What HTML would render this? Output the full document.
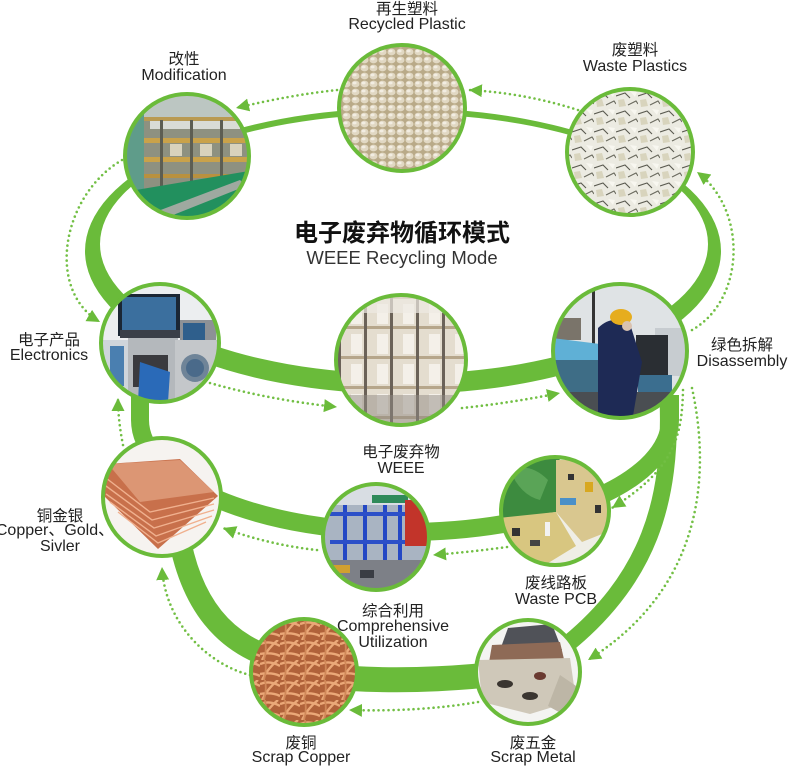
<!DOCTYPE html>
<html><head><meta charset="utf-8"><style>
html,body{margin:0;padding:0;background:#fff;}
svg{display:block}
.cj{font-family:"Liberation Sans","Noto Sans CJK SC",sans-serif;font-size:15.5px;fill:#222;}
.en{font-family:"Liberation Sans","Noto Sans CJK SC",sans-serif;font-size:16px;fill:#222;}
.dot{fill:none;stroke:#72bf44;stroke-width:2.6;stroke-dasharray:0 5;stroke-linecap:round;}
.band{fill:none;stroke:#6abb3a;}
.ring{fill:none;stroke:#6abb3a;stroke-width:4;}
</style></head><body>
<svg width="789" height="767" viewBox="0 0 789 767" xmlns="http://www.w3.org/2000/svg">
<defs>
<marker id="ah" markerUnits="userSpaceOnUse" markerWidth="16" markerHeight="16" refX="13" refY="6.5" orient="auto"><path d="M0,0 L13,6.5 L0,13 z" fill="#6abb3a"/></marker>
<clipPath id="k1"><circle cx="402" cy="108" r="63"/></clipPath>
<clipPath id="k2"><circle cx="187" cy="156" r="62"/></clipPath>
<clipPath id="k3"><circle cx="630" cy="152" r="63"/></clipPath>
<clipPath id="k4"><circle cx="160" cy="343" r="59"/></clipPath>
<clipPath id="k5"><circle cx="401" cy="360" r="65"/></clipPath>
<clipPath id="k6"><circle cx="620" cy="351" r="67"/></clipPath>
<clipPath id="k7"><circle cx="162" cy="497" r="59"/></clipPath>
<clipPath id="k8"><circle cx="376" cy="537" r="53"/></clipPath>
<clipPath id="k9"><circle cx="555" cy="511" r="54"/></clipPath>
<clipPath id="k10"><circle cx="304" cy="672" r="53"/></clipPath>
<clipPath id="k11"><circle cx="528" cy="672" r="52"/></clipPath>
<pattern id="pel" width="9" height="8" patternUnits="userSpaceOnUse"><rect width="9" height="8" fill="#b9aa88"/><ellipse cx="4.5" cy="4" rx="4" ry="3.4" fill="#e1d8c3"/><ellipse cx="3.6" cy="3" rx="2" ry="1.4" fill="#f2ede2"/></pattern>
<pattern id="flk" width="22" height="18" patternUnits="userSpaceOnUse"><rect width="22" height="18" fill="#ecebe2"/><polygon points="2,10 8,9 10,16 3,17" fill="#d8d4bd"/><polygon points="14,1 21,2 19,7" fill="#f8f7f0"/><path d="M0,6 L9,3 L14,8" stroke="#5a5a50" stroke-width="1.1" fill="none"/><path d="M12,15 L20,11 L22,14" stroke="#6a6a5e" stroke-width="1.1" fill="none"/></pattern>
<pattern id="box" width="26" height="30" patternUnits="userSpaceOnUse"><rect width="26" height="30" fill="#e4ddcf"/><rect x="0" y="0" width="3" height="30" fill="#6b6258"/><rect x="3" y="26" width="23" height="3" fill="#b6a68b"/><rect x="13" y="4" width="11" height="20" fill="#f4f0e9"/></pattern>
<pattern id="wire" width="20" height="20" patternUnits="userSpaceOnUse"><rect width="20" height="20" fill="#b0623a"/><path d="M0,4 Q10,0 20,6 M2,20 Q8,8 18,0 M0,14 Q12,12 20,16" stroke="#eaa878" stroke-width="2.4" fill="none"/><path d="M5,0 Q7,10 4,20" stroke="#d08858" stroke-width="1.8" fill="none"/></pattern>
</defs>

<!-- green bands -->
<path fill="#6abb3a" fill-rule="evenodd" d="M85,251 A318,143 0 1 0 721,251 A318,143 0 1 0 85,251 Z M100,244 A304,130 0 1 0 708,244 A304,130 0 1 0 100,244 Z"/>
<path class="band" stroke-width="18" d="M140,395 L140,420 A265,112 0 0 0 670,420 L670,395"/>
<path class="band" stroke-width="17" d="M668,398 C672,500 650,580 560,650"/>
<path class="band" stroke-width="25" d="M540,668 C480,678 400,684 320,676"/>
<path class="band" stroke-width="22" d="M280,660 C225,645 190,605 178,530"/>

<!-- dotted arrows -->
<path class="dot" marker-end="url(#ah)" d="M337,90 Q290,95 236,108"/>
<path class="dot" marker-end="url(#ah)" d="M578,110 Q525,93 469,90"/>
<path class="dot" marker-end="url(#ah)" d="M692,330 C745,300 748,210 697,172"/>
<path class="dot" marker-end="url(#ah)" d="M122,160 C62,195 45,290 100,322"/>
<path class="dot" marker-end="url(#ah)" d="M210,383 Q270,400 337,407"/>
<path class="dot" marker-end="url(#ah)" d="M462,408 Q510,403 560,393"/>
<path class="dot" marker-end="url(#ah)" d="M123,445 Q118,420 118,398"/>
<path class="dot" marker-end="url(#ah)" d="M683,390 C682,440 672,470 612,508"/>
<path class="dot" marker-end="url(#ah)" d="M692,388 C712,480 700,590 588,660"/>
<path class="dot" marker-end="url(#ah)" d="M478,702 Q420,712 349,710"/>
<path class="dot" marker-end="url(#ah)" d="M250,675 C210,665 165,625 162,567"/>
<path class="dot" marker-end="url(#ah)" d="M507,547 Q470,552 433,555"/>
<path class="dot" marker-end="url(#ah)" d="M317,550 Q270,545 223,528"/>

<!-- C1 Recycled plastic -->
<g clip-path="url(#k1)"><rect x="335" y="40" width="135" height="135" fill="url(#pel)"/></g>
<circle class="ring" cx="402" cy="108" r="63"/>

<!-- C2 Modification -->
<g clip-path="url(#k2)">
<rect x="120" y="90" width="135" height="135" fill="#8e9180"/>
<rect x="120" y="90" width="135" height="28" fill="#bcc6c2"/>
<rect x="150" y="120" width="90" height="9" fill="#d9dcd6"/>
<rect x="120" y="117" width="135" height="4" fill="#b99a52"/>
<rect x="120" y="138" width="135" height="5" fill="#c9a24a"/>
<rect x="120" y="157" width="135" height="5" fill="#c9a24a"/>
<rect x="120" y="174" width="135" height="4" fill="#b9913f"/>
<rect x="160" y="120" width="3" height="70" fill="#5d5e52"/><rect x="190" y="120" width="3" height="70" fill="#5d5e52"/><rect x="220" y="120" width="3" height="70" fill="#5d5e52"/>
<rect x="170" y="144" width="12" height="12" fill="#d8d2bc"/><rect x="200" y="144" width="12" height="12" fill="#d8d2bc"/><rect x="230" y="144" width="12" height="12" fill="#d8d2bc"/>
<rect x="124" y="90" width="20" height="135" fill="#5f9c8a"/>
<polygon points="124,192 255,170 255,225 124,225" fill="#22905e"/>
<polygon points="150,214 240,180 246,186 158,221" fill="#9fa9a0"/>
</g>
<circle class="ring" cx="187" cy="156" r="62"/>

<!-- C3 Waste plastics -->
<g clip-path="url(#k3)"><rect x="565" y="87" width="130" height="130" fill="url(#flk)"/></g>
<circle class="ring" cx="630" cy="152" r="63"/>

<!-- C4 Electronics -->
<g clip-path="url(#k4)">
<rect x="98" y="281" width="124" height="124" fill="#eceef0"/>
<rect x="100" y="340" width="28" height="62" fill="#cfd5db"/>
<rect x="110" y="346" width="14" height="40" fill="#4a7fb0"/>
<rect x="118" y="294" width="62" height="42" fill="#1b2634"/>
<rect x="122" y="297" width="54" height="35" fill="#3b6f9e"/>
<rect x="120" y="330" width="60" height="8" fill="#3a3f48"/>
<rect x="180" y="320" width="36" height="24" fill="#8d9196"/>
<rect x="183" y="323" width="22" height="17" fill="#2f5f8c"/>
<rect x="128" y="338" width="50" height="64" fill="#b4b8bc"/>
<rect x="133" y="355" width="35" height="32" fill="#3a3a3e"/>
<rect x="175" y="340" width="42" height="62" fill="#c4c7ca"/>
<circle cx="195" cy="368" r="14" fill="#6f8498"/><circle cx="195" cy="368" r="9" fill="#4a6a8a"/>
<path d="M140,362 L170,372 L168,402 L138,402 Z" fill="#2a6ab8"/>
</g>
<circle class="ring" cx="160" cy="343" r="59"/>

<!-- C5 WEEE -->
<g clip-path="url(#k5)">
<rect x="334" y="293" width="134" height="134" fill="url(#box)"/>
<rect x="334" y="293" width="134" height="20" fill="#eeeae2" opacity="0.7"/>
<rect x="340" y="395" width="120" height="32" fill="#8f8a84" opacity="0.5"/>
</g>
<circle class="ring" cx="401" cy="360" r="65"/>

<!-- C6 Disassembly -->
<g clip-path="url(#k6)">
<rect x="552" y="283" width="136" height="136" fill="#dfe3e5"/>
<rect x="592" y="283" width="3" height="62" fill="#333"/>
<rect x="556" y="318" width="25" height="22" fill="#7a746a"/>
<polygon points="552,338 600,344 600,366 552,360" fill="#5fb0d6"/>
<rect x="552" y="360" width="46" height="40" fill="#3e6d86"/>
<rect x="655" y="328" width="33" height="48" fill="#c7ccd0"/>
<rect x="636" y="335" width="32" height="40" fill="#2a2e33"/>
<rect x="638" y="375" width="34" height="25" fill="#3b6e8f"/>
<rect x="552" y="392" width="136" height="30" fill="#4a4e52"/>
<path d="M598,328 Q612,314 630,324 L642,362 L632,422 L598,422 Z" fill="#1e2a55"/>
<ellipse cx="621" cy="317" rx="11" ry="8" fill="#e6ad1e"/>
<circle cx="627" cy="326" r="5" fill="#d9c2b0"/>
</g>
<circle class="ring" cx="620" cy="351" r="67"/>

<!-- C7 Copper -->
<g clip-path="url(#k7)">
<rect x="100" y="435" width="124" height="124" fill="#f6f3f0"/>
<polygon points="106,464 180,459 218,496 158,549 104,496" fill="#c8704b"/>
<polygon points="108,464 180,460 214,492 140,502" fill="#dc9674"/>
<path d="M106,478 L150,512 L214,498 M106,486 L152,520 L214,504 M106,494 L154,528 L214,510 M110,502 L156,536 L212,516 M118,512 L158,543 L206,522" stroke="#f0b08e" stroke-width="1.4" fill="none"/>
</g>
<circle class="ring" cx="162" cy="497" r="59"/>

<!-- C8 Comprehensive Utilization -->
<g clip-path="url(#k8)">
<rect x="320" y="481" width="112" height="112" fill="#a9b4c2"/>
<rect x="320" y="481" width="112" height="24" fill="#d8dde3"/>
<rect x="372" y="495" width="36" height="8" fill="#2f8a5a"/>
<rect x="343" y="505" width="4" height="85" fill="#2448c4"/><rect x="363" y="505" width="4" height="85" fill="#2448c4"/><rect x="383" y="505" width="4" height="85" fill="#2448c4"/><rect x="398" y="505" width="4" height="85" fill="#2448c4"/>
<rect x="330" y="512" width="80" height="4" fill="#2c50c8"/><rect x="330" y="540" width="80" height="4" fill="#2c50c8"/>
<rect x="405" y="500" width="27" height="46" fill="#c2342a"/>
<rect x="320" y="560" width="112" height="33" fill="#7d8087"/>
<rect x="330" y="565" width="20" height="8" fill="#d0a030"/><rect x="360" y="570" width="14" height="8" fill="#3a3d44"/>
</g>
<circle class="ring" cx="376" cy="537" r="53"/>

<!-- C9 PCB -->
<g clip-path="url(#k9)">
<rect x="498" y="454" width="114" height="114" fill="#efeee6"/>
<polygon points="498,454 560,454 556,512 498,520" fill="#3d8b3f"/>
<path d="M510,470 Q530,462 548,480 L540,500 Q520,495 510,470 Z" fill="#5aa457"/>
<polygon points="556,460 612,460 612,530 582,542 556,512" fill="#d9c78f"/>
<polygon points="498,518 556,512 576,546 540,568 498,568" fill="#d8c680"/>
<rect x="560" y="498" width="16" height="7" fill="#4a90c8"/>
<rect x="585" y="482" width="8" height="10" fill="#d8a820"/>
<rect x="568" y="474" width="6" height="6" fill="#333"/><rect x="595" y="505" width="6" height="8" fill="#333"/>
<rect x="512" y="528" width="8" height="8" fill="#333"/><rect x="530" y="540" width="10" height="6" fill="#444"/><rect x="545" y="522" width="5" height="14" fill="#f2f2f2"/>
</g>
<circle class="ring" cx="555" cy="511" r="54"/>

<!-- C10 Scrap copper -->
<g clip-path="url(#k10)"><rect x="249" y="617" width="110" height="110" fill="url(#wire)"/></g>
<circle class="ring" cx="304" cy="672" r="53"/>

<!-- C11 Scrap metal -->
<g clip-path="url(#k11)">
<rect x="474" y="618" width="108" height="108" fill="#f4f4f2"/>
<polygon points="508,628 552,624 562,650 500,650" fill="#505258"/>
<polygon points="492,645 560,642 566,668 488,668" fill="#8e6a56"/>
<polygon points="478,660 570,658 576,700 530,714 482,702" fill="#cfc8b9"/>
<polygon points="560,675 582,690 566,716 548,706" fill="#bdb6a6"/>
<ellipse cx="505" cy="684" rx="8" ry="4" fill="#3a3530"/><ellipse cx="530" cy="696" rx="8" ry="4" fill="#3a3530"/><ellipse cx="540" cy="676" rx="6" ry="4" fill="#6a3a30"/>
</g>
<circle class="ring" cx="528" cy="672" r="52"/>

<!-- Title -->
<text x="402" y="241" text-anchor="middle" style="font-family:'Liberation Sans','Noto Sans CJK SC',sans-serif;font-size:24px;font-weight:bold;fill:#111;">电子废弃物循环模式</text>
<text x="402" y="264" text-anchor="middle" style="font-family:'Liberation Sans','Noto Sans CJK SC',sans-serif;font-size:18.5px;fill:#333;">WEEE Recycling Mode</text>

<!-- Labels -->
<text class="cj" x="407" y="14" text-anchor="middle">再生塑料</text>
<text class="en" x="407" y="29" text-anchor="middle">Recycled Plastic</text>

<text class="cj" x="184" y="64" text-anchor="middle">改性</text>
<text class="en" x="184" y="80" text-anchor="middle">Modification</text>

<text class="cj" x="635" y="55" text-anchor="middle">废塑料</text>
<text class="en" x="635" y="71" text-anchor="middle">Waste Plastics</text>

<text class="cj" x="49" y="345" text-anchor="middle">电子产品</text>
<text class="en" x="49" y="360" text-anchor="middle">Electronics</text>

<text class="cj" x="401" y="457" text-anchor="middle">电子废弃物</text>
<text class="en" x="401" y="473" text-anchor="middle">WEEE</text>

<text class="cj" x="742" y="350" text-anchor="middle">绿色拆解</text>
<text class="en" x="742" y="366" text-anchor="middle">Disassembly</text>

<text class="cj" x="60" y="521" text-anchor="middle">铜金银</text>
<text class="en" x="55" y="535" text-anchor="middle">Copper、Gold、</text>
<text class="en" x="60" y="551" text-anchor="middle">Sivler</text>

<text class="cj" x="393" y="616" text-anchor="middle">综合利用</text>
<text class="en" x="393" y="631" text-anchor="middle">Comprehensive</text>
<text class="en" x="393" y="647" text-anchor="middle">Utilization</text>

<text class="cj" x="556" y="588" text-anchor="middle">废线路板</text>
<text class="en" x="556" y="604" text-anchor="middle">Waste PCB</text>

<text class="cj" x="301" y="748" text-anchor="middle">废铜</text>
<text class="en" x="301" y="762" text-anchor="middle">Scrap Copper</text>

<text class="cj" x="533" y="748" text-anchor="middle">废五金</text>
<text class="en" x="533" y="762" text-anchor="middle">Scrap Metal</text>
</svg>
</body></html>
